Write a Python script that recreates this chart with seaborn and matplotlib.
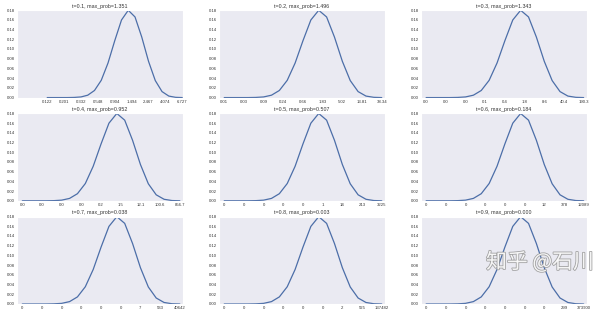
import numpy as np
import pandas as pd
import matplotlib
matplotlib.use("Agg")
import matplotlib.pyplot as plt
import matplotlib.patheffects as pe
import seaborn as sns

# ---- data ----
t_values = [0.1, 0.2, 0.3, 0.4, 0.5, 0.6, 0.7, 0.8, 0.9]
max_probs = ["1.351", "1.496", "1.343", "0.952", "0.507", "0.184", "0.038", "0.003", "0.000"]

# probability curve (21 points, same shape in every panel)
probs = [0.0, 0.0, 0.0, 0.0, 0.0003, 0.0013, 0.0049, 0.0146, 0.0355, 0.0710,
         0.1171, 0.1597, 0.1797, 0.1659, 0.1244, 0.0746, 0.0350, 0.0123,
         0.0031, 0.0005, 0.0]

tick_labels = [
    ["0.122", "0.201", "0.332", "0.548", "0.904", "1.494", "2.467", "4.074", "6.727"],
    ["0.01", "0.03", "0.09", "0.24", "0.66", "1.83", "5.02", "13.81", "38.34"],
    ["0.0", "0.0", "0.0", "0.1", "0.4", "1.8", "8.6", "40.4", "190.3"],
    ["0.0", "0.0", "0.0", "0.0", "0.2", "1.5", "12.1", "100.6", "856.7"],
    ["0", "0", "0", "0", "0", "1", "14", "213", "3225"],
    ["0", "0", "0", "0", "0", "0", "12", "378", "12089"],
    ["0", "0", "0", "0", "0", "0", "7", "533", "40642"],
    ["0", "0", "0", "0", "0", "0", "2", "525", "137482"],
    ["0", "0", "0", "0", "0", "0", "0", "299", "373900"],
]

sns.set_style("dark")
plt.rcParams['font.family'] = ['Liberation Sans', 'DejaVu Sans']

fig, axes = plt.subplots(3, 3, figsize=(6, 3.16), dpi=100)
fig.subplots_adjust(left=0.028, right=0.978, top=0.968, bottom=0.038,
                    wspace=0.215, hspace=0.18)

idx = np.arange(len(probs))
tick_pos = np.linspace(0, len(probs) - 1, 9)

for i, ax in enumerate(axes.flat):
    df = pd.DataFrame({"x": idx, "p": probs})
    sns.lineplot(data=df, x="x", y="p", ax=ax, color="#4c6ea8", linewidth=0.9)
    ax.set_title(f"t={t_values[i]}, max_prob={max_probs[i]}", fontsize=3.8,
                 pad=1.5, color="#333333")
    ax.set_xticks(tick_pos)
    ax.set_xticklabels(tick_labels[i])
    ax.set_yticks(np.arange(0, 0.181, 0.02))
    ax.set_ylim(0, 0.18)
    if i == 0:
        ax.set_xlim(-4.5, 20.1)
    else:
        ax.set_xlim(-0.7, 20.4)
    ax.tick_params(axis="both", labelsize=3.1, pad=1.5, length=0,
                   labelcolor="#333333")
    ax.yaxis.set_major_formatter(matplotlib.ticker.FormatStrFormatter("%.2f"))
    ax.set_xlabel("")
    ax.set_ylabel("")

# watermark
fig.text(0.9, 0.17, "知乎 @石川", fontsize=15, color="white", alpha=0.9,
         ha="center", va="center", family=['Noto Sans CJK SC', 'DejaVu Sans'],
         path_effects=[pe.withStroke(linewidth=1.2, foreground="#9a9a9a")])

fig.savefig("out.png", dpi=100)
